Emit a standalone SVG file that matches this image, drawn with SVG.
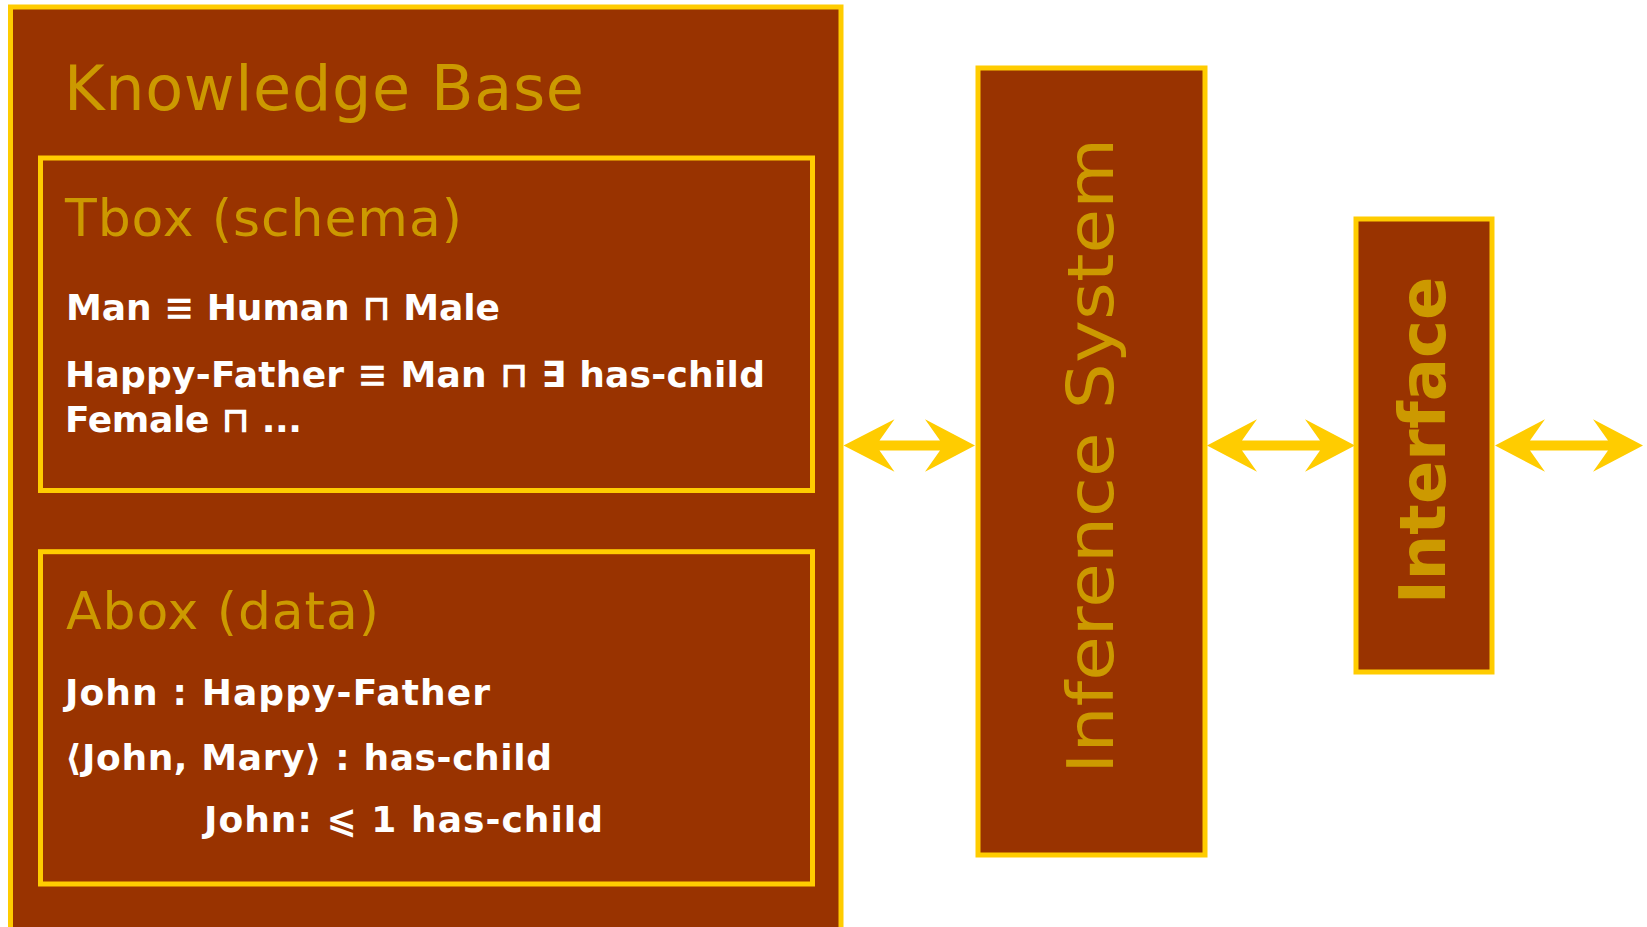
<svg xmlns="http://www.w3.org/2000/svg" width="1647" height="927" viewBox="0 0 1647 927">
<style>
.box{fill:#993300;stroke:#FFCC00;stroke-width:5}
.head{fill:#CC9900;font-family:"DejaVu Sans","Verdana",sans-serif}
.body{fill:#FFFFFF;font-family:"DejaVu Sans",sans-serif;font-weight:bold;font-size:36px}
.arrow{fill:#FFCC00;stroke:none}
</style>
<rect width="1647" height="927" fill="#FFFFFF"/>
<g id="knowledge-base">
<rect class="box" x="10.5" y="7" width="830.5" height="940"/>
<text class="head" x="64" y="110" font-size="62" textLength="520" lengthAdjust="spacing">Knowledge Base</text>
</g>
<g id="tbox">
<rect class="box" x="40.5" y="158" width="772" height="332.5"/>
<text class="head" x="65" y="236" font-size="52" textLength="397" lengthAdjust="spacing">Tbox (schema)</text>
<text class="body" x="66" y="319.5" textLength="434" lengthAdjust="spacing">Man ≡ Human ⊓ Male</text>
<text class="body" x="65" y="386.5" textLength="700" lengthAdjust="spacing">Happy-Father ≡ Man ⊓ ∃ has-child</text>
<text class="body" x="65" y="431.5" textLength="237" lengthAdjust="spacing">Female ⊓ ...</text>
</g>
<g id="abox">
<rect class="box" x="40.5" y="551.7" width="772" height="332.3"/>
<text class="head" x="66" y="629.3" font-size="52" textLength="313" lengthAdjust="spacing">Abox (data)</text>
<text class="body" x="65" y="705" textLength="425" lengthAdjust="spacing">John : Happy-Father</text>
<text class="body" x="65" y="770" textLength="487" lengthAdjust="spacing">⟨John, Mary⟩ : has-child</text>
<text class="body" x="204" y="831.7" textLength="399" lengthAdjust="spacing">John: ⩽ 1 has-child</text>
</g>
<g id="inference-system">
<rect class="box" x="978" y="68" width="227" height="787"/>
<text class="head" transform="translate(1113,774) rotate(-90)" x="0" y="0" font-size="64" textLength="636" lengthAdjust="spacingAndGlyphs">Inference System</text>
</g>
<g id="interface">
<rect class="box" x="1356" y="219" width="136" height="453"/>
<text class="head" transform="translate(1445,604) rotate(-90)" x="0" y="0" font-size="64" font-weight="bold">Interface</text>
</g>
<g id="connectors">
<path class="arrow" d="M843.5,445.5 L894.5,419.3 L879.5,440.5 L940,440.5 L925,419.3 L975,445.5 L925,471.7 L940,450.5 L879.5,450.5 L894.5,471.7 Z"/>
<path class="arrow" d="M1207,445.5 L1257,419.3 L1242,440.5 L1320,440.5 L1305,419.3 L1355,445.5 L1305,471.7 L1320,450.5 L1242,450.5 L1257,471.7 Z"/>
<path class="arrow" d="M1495,445.5 L1545,419.3 L1530,440.5 L1608,440.5 L1593,419.3 L1643,445.5 L1593,471.7 L1608,450.5 L1530,450.5 L1545,471.7 Z"/>
</g>
</svg>
